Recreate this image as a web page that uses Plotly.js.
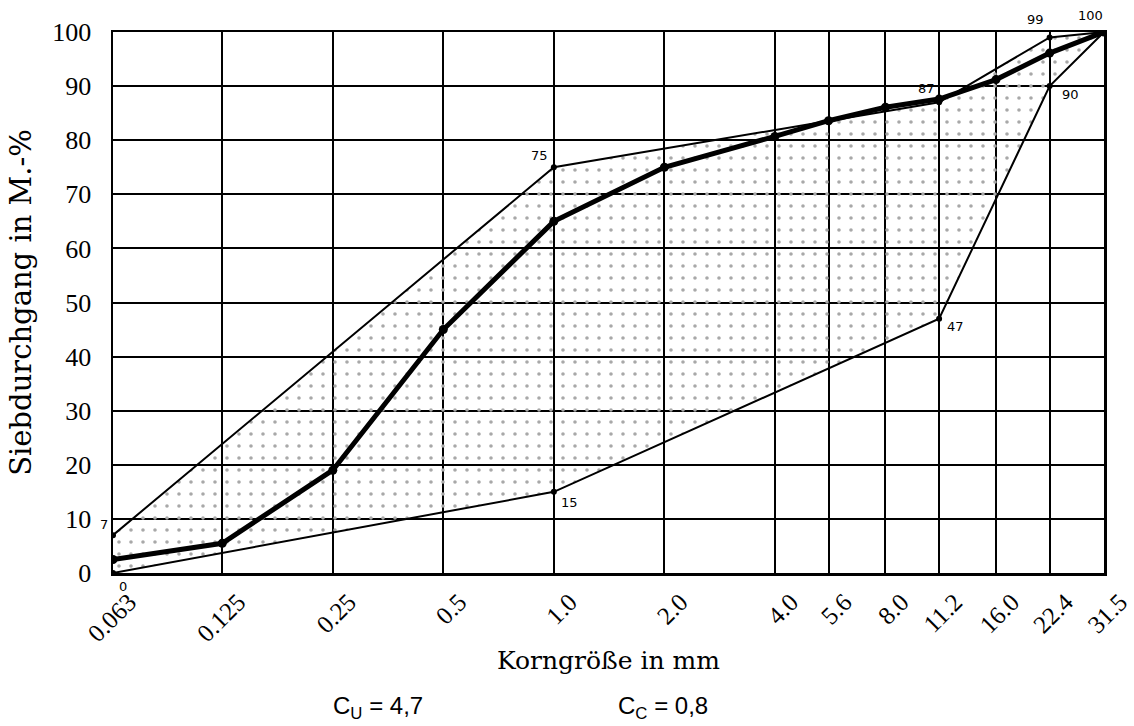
<!DOCTYPE html>
<html>
<head>
<meta charset="utf-8">
<script src="https://cdn.plot.ly/plotly-3.0.1.min.js"></script>
<style>html,body{margin:0;padding:0;background:#fff;}#chart{width:1134px;height:726px;}</style>
</head>
<body>
<div id="chart"></div>
<script>
// sieve sizes (mm)
const sieves = [0.063, 0.125, 0.25, 0.5, 1.0, 2.0, 4.0, 5.6, 8.0, 11.2, 16.0, 22.4, 31.5];
const sieveLabels = ["0.063", "0.125", "0.25", "0.5", "1.0", "2.0", "4.0", "5.6", "8.0", "11.2", "16.0", "22.4", "31.5"];
// grading curve (passing in M.-%)
const passing = [2.5, 5.5, 19, 45, 65, 75, 80.7, 83.6, 86.1, 87.6, 91.2, 96.1, 100];
// grading envelope
const upperX = [0.063, 1.0, 11.2, 22.4, 31.5];
const upperY = [7, 75, 87, 99, 100];
const lowerX = [0.063, 1.0, 11.2, 22.4, 31.5];
const lowerY = [0, 15, 47, 90, 100];
// labelled envelope points
const upperLabels = ["7", "75", "87", "99", "100"];
const lowerLabels = ["0", "15", "47", "90", ""];
const yTicks = [0, 10, 20, 30, 40, 50, 60, 70, 80, 90, 100];
const coefCu = "4,7";
const coefCc = "0,8";

const traces = [
  {x: lowerX, y: lowerY, mode: "lines+markers", type: "scatter",
   line: {color: "#000", width: 2}, marker: {color: "#000", size: 6},
   hoverinfo: "x+y", showlegend: false},
  {x: upperX, y: upperY, mode: "lines+markers", type: "scatter",
   line: {color: "#000", width: 2}, marker: {color: "#000", size: 6},
   fill: "tonexty", fillcolor: "rgba(0,0,0,0)",
   fillpattern: {shape: ".", fgcolor: "#a8a8a8", bgcolor: "rgba(255,255,255,0)", size: 12, solidity: 0.07},
   hoverinfo: "x+y", showlegend: false},
  {x: sieves, y: passing, mode: "lines+markers", type: "scatter",
   line: {color: "#000", width: 5}, marker: {color: "#000", size: 9},
   hoverinfo: "x+y", showlegend: false}
];

const lblFont = {family: "DejaVu Sans, sans-serif", size: 13, color: "#000"};
const annotations = [];
// pixel offsets of each label from its point
const upOff = [[-9, 11], [-14, 12], [-13, 14], [-14, 18], [-14, 17]];
upperX.forEach((v, i) => {
  if (!upperLabels[i]) return;
  annotations.push({x: Math.log10(v), y: upperY[i], xref: "x", yref: "y", text: upperLabels[i],
    showarrow: false, font: lblFont, xshift: upOff[i][0], yshift: upOff[i][1]});
});
const lowOff = [[10, -13], [16, -11], [16, -8], [21, -8]];
lowerX.forEach((v, i) => {
  if (!lowerLabels[i]) return;
  annotations.push({x: Math.log10(v), y: lowerY[i], xref: "x", yref: "y", text: lowerLabels[i],
    showarrow: false, font: lblFont, xshift: lowOff[i][0], yshift: lowOff[i][1]});
});
const plotLeft = 113, plotRight = 1104, plotTop = 32, plotBottom = 573;
const toPaperX = px => (px - plotLeft) / (plotRight - plotLeft);
const toPaperY = py => (plotBottom - py) / (plotBottom - plotTop);
const coefFont = {family: "Liberation Sans Narrow, Liberation Sans, sans-serif", size: 24, color: "#000"};
annotations.push({x: toPaperX(378), y: toPaperY(707), xref: "paper", yref: "paper", xanchor: "center", yanchor: "middle",
  text: "C<sub>U</sub> = " + coefCu, showarrow: false, font: coefFont});
annotations.push({x: toPaperX(663), y: toPaperY(707), xref: "paper", yref: "paper", xanchor: "center", yanchor: "middle",
  text: "C<sub>C</sub> = " + coefCc, showarrow: false, font: coefFont});

const layout = {
  width: 1134, height: 726,
  margin: {l: 113, r: 30, t: 32, b: 153},
  paper_bgcolor: "#fff", plot_bgcolor: "#fff",
  showlegend: false,
  xaxis: {
    type: "log", range: [Math.log10(sieves[0]), Math.log10(sieves[sieves.length - 1])],
    tickmode: "array", tickvals: sieves, ticktext: sieveLabels, tickangle: -45,
    tickfont: {family: "Liberation Serif, serif", size: 25, color: "#000"},
    ticklabelstandoff: 2, ticklabelshift: 16,
    showgrid: true, gridcolor: "#000", gridwidth: 2,
    showline: true, linecolor: "#000", linewidth: 2.5, mirror: true,
    ticks: "", zeroline: false,
    title: {text: "Korngröße in mm", font: {family: "DejaVu Serif, serif", size: 25, color: "#000"}, standoff: 6}
  },
  yaxis: {
    range: [0, 100], tickmode: "array", tickvals: yTicks,
    tickfont: {family: "Liberation Serif, serif", size: 26, color: "#000"},
    showgrid: true, gridcolor: "#000", gridwidth: 2,
    showline: true, linecolor: "#000", linewidth: 2.5, mirror: true,
    ticks: "", zeroline: false, ticklabelstandoff: 14,
    title: {text: "Siebdurchgang in M.-%", font: {family: "DejaVu Serif, serif", size: 29, color: "#000"}, standoff: 12}
  },
  annotations: annotations
};

Plotly.newPlot("chart", traces, layout, {displayModeBar: false, staticPlot: true});
</script>
</body>
</html>
